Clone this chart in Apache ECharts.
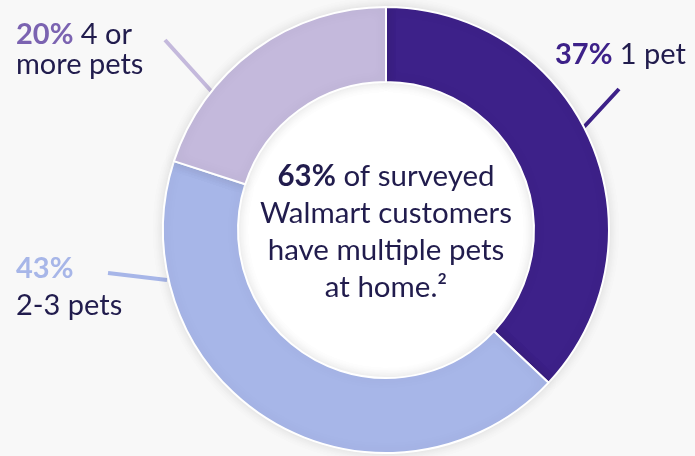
<!DOCTYPE html>
<html>
<head>
<meta charset="utf-8">
<script src="https://cdn.jsdelivr.net/npm/echarts@6/dist/echarts.min.js"></script>
<style>
html,body{margin:0;padding:0;background:#f8f8f8;}
#chart{width:695px;height:456px;}
</style>
</head>
<body>
<div id="chart"></div>
<script>
// ---- data ----
const categories = ['1 pet', '2-3 pets', '4 or more pets'];
const values = [37, 43, 20];
const sliceColors = ['#3d2189', '#a7b6e8', '#c4b9dc'];
const pctColors = ['#3d2189', '#a7b6e8', '#7b63b1'];
const centerLines = ['63%', 'of surveyed', 'Walmart customers', 'have multiple pets', 'at home.²'];

// ---- layout ----
const CX = 386, CY = 230, R_IN = 148, R_OUT = 223;
const TEXT = '#211c4d';
const FONT = 'Lato, "Noto Sans", sans-serif';
const LABEL_SIZE = 29, CENTER_SIZE = 29.5;
// label placement (layout only)
const labelPlace = [
  { x: 555, y: 55, lh: 30, sep: ' ', line: [[197, -102], [233, -141]] },
  { x: 16, y: 287, lh: 37, sep: '\n', line: [[-219, 50], [-278, 43]] },
  { x: 16, y: 50, lh: 30, sep: ' ', line: [[-174, -138], [-221, -190]] }
];

function labelText(i) {
  const name = categories[i];
  const sep = labelPlace[i].sep;
  let nameTxt;
  if (i === 2) {
    const w = name.split(' ');
    nameTxt = '{t| ' + w.slice(0, 2).join(' ') + '}\n{t|' + w.slice(2).join(' ') + '}';
  } else {
    nameTxt = sep === ' ' ? '{t| ' + name + '}' : '\n{t|' + name + '}';
  }
  return '{p|' + values[i] + '%}' + nameTxt;
}

const data = categories.map((c, i) => ({
  name: c,
  value: values[i],
  itemStyle: { color: sliceColors[i] },
  label: {
    formatter: labelText(i),
    overflow: 'none',
    rich: {
      p: { fontFamily: FONT, fontSize: LABEL_SIZE, fontWeight: 'bold', color: pctColors[i], lineHeight: labelPlace[i].lh },
      t: { fontFamily: FONT, fontSize: LABEL_SIZE, fontWeight: 'normal', color: TEXT, lineHeight: labelPlace[i].lh }
    }
  },
  labelLine: { lineStyle: { color: sliceColors[i], width: 4 } }
}));

const chart = echarts.init(document.getElementById('chart'));
chart.setOption({
  backgroundColor: '#f8f8f8',
  animation: false,
  graphic: [
    {
      type: 'circle', z: 0,
      shape: { cx: CX, cy: CY, r: R_IN },
      style: { fill: '#ffffff' }
    },
    {
      type: 'text', z: 10,
      x: CX, y: CY + 2,
      style: {
        text: '{b|' + centerLines[0] + '}{r| ' + centerLines[1] + '}\n{r|' + centerLines[2] + '}\n{r|' + centerLines[3] + '}\n{r|' + centerLines[4] + '}',
        align: 'center', verticalAlign: 'middle',
        rich: {
          b: { fontFamily: FONT, fontSize: CENTER_SIZE, fontWeight: 'bold', fill: TEXT, lineHeight: 37 },
          r: { fontFamily: FONT, fontSize: CENTER_SIZE, fill: TEXT, lineHeight: 37 }
        }
      }
    }
  ],
  series: [{
    type: 'pie',
    center: [CX, CY],
    radius: [R_IN, R_OUT],
    startAngle: 90,
    clockwise: true,
    silent: true,
    itemStyle: {
      borderColor: '#ffffff', borderWidth: 2,
      shadowBlur: 12, shadowColor: 'rgba(0,0,0,0.12)'
    },
    label: { show: true, position: 'outside', overflow: 'none', alignTo: 'none' },
    labelLine: { show: true, length: 20, length2: 20, smooth: false },
    labelLayout: function (params) {
      const P = labelPlace[params.dataIndex];
      const a = P.line[0], b = P.line[1];
      return {
        x: P.x, y: P.y, align: 'left', verticalAlign: 'middle',
        labelLinePoints: [[CX + a[0], CY + a[1]], [CX + (a[0] + b[0]) / 2, CY + (a[1] + b[1]) / 2], [CX + b[0], CY + b[1]]]
      };
    },
    data: data
  }]
});
</script>
</body>
</html>
